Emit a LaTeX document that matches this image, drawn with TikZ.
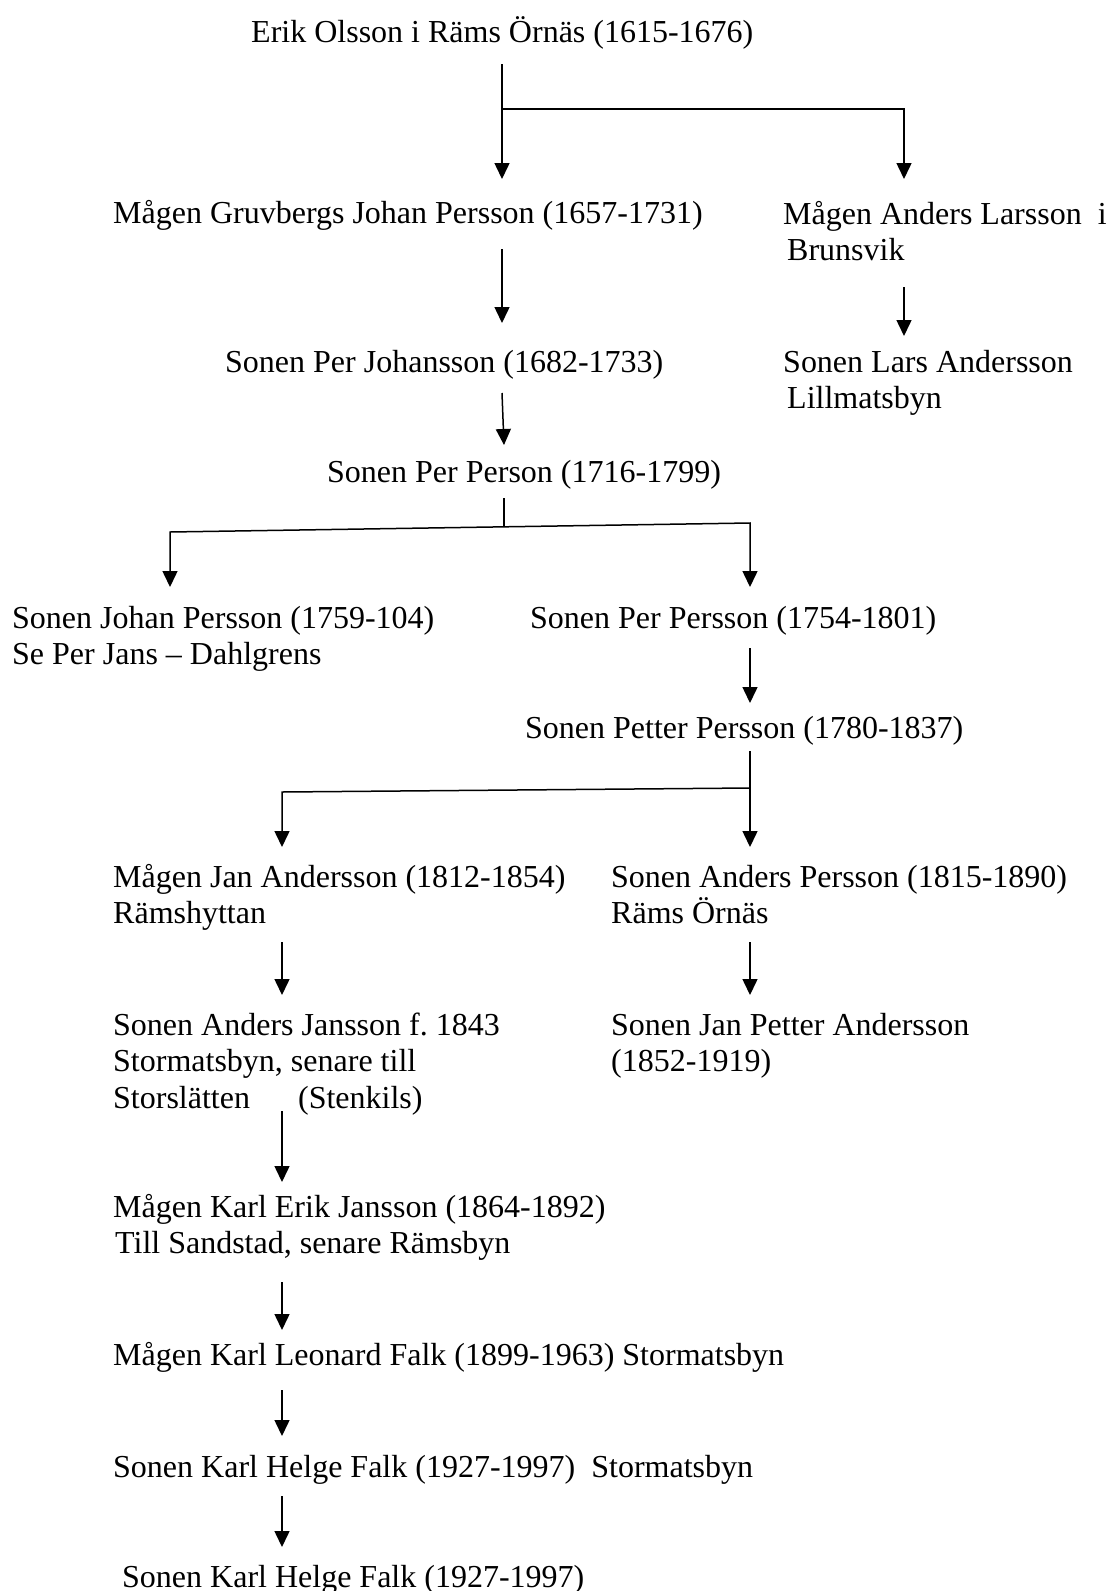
\documentclass[tikz,border=0pt]{standalone}
\usepackage{fontspec}
\setmainfont{Liberation Serif}
\usetikzlibrary{arrows.meta}
\frenchspacing
\begin{document}
\begin{tikzpicture}[x=1pt,y=-1pt,
  lbl/.style={anchor=base west, inner sep=0pt, align=left, font=\fontsize{32}{36.5}\selectfont},
  arr/.style={line width=1.5pt, -{Triangle[length=16pt,width=15pt]}},
  arr2/.style={line width=1.5pt, line join=miter, {Triangle[length=16pt,width=15pt]}-{Triangle[length=16pt,width=15pt]}},
  ln/.style={line width=1.5pt, line join=miter}]
\useasboundingbox[fill=white] (0,0) rectangle (1110,1591);

% nodes (multi-line nodes are placed by the baseline of their last line)
\node[lbl] (erik)   at (251,42)   {Erik Olsson i Räms Örnäs (1615-1676)};
\node[lbl] (gruv)   at (113,223)  {Mågen Gruvbergs Johan Persson (1657-1731)};
\node[lbl] (anders) at (783,260.5)  {Mågen Anders Larsson\ \ i\\\hspace*{4pt}Brunsvik};
\node[lbl] (perj)   at (225,372)  {Sonen Per Johansson (1682-1733)};
\node[lbl] (lars)   at (783,408.5)  {Sonen Lars Andersson\\\hspace*{4pt}Lillmatsbyn};
\node[lbl] (perp)   at (327,482)  {Sonen Per Person (1716-1799)};
\node[lbl] (johan)  at (12,664.5)   {Sonen Johan Persson (1759-104)\\Se Per Jans – Dahlgrens};
\node[lbl] (perp2)  at (530,628)  {Sonen Per Persson (1754-1801)};
\node[lbl] (petter) at (525,738)  {Sonen Petter Persson (1780-1837)};
\node[lbl] (jan)    at (113,923.5)  {Mågen Jan Andersson (1812-1854)\\Rämshyttan};
\node[lbl] (andp)   at (611,923.5)  {Sonen Anders Persson (1815-1890)\\Räms Örnäs};
\node[lbl] (andj)   at (113,1108) {Sonen Anders Jansson f. 1843\\Stormatsbyn, senare till\\Storslätten\hspace*{48pt}(Stenkils)};
\node[lbl] (jpa)    at (611,1071.5) {Sonen Jan Petter Andersson\\(1852-1919)};
\node[lbl] (karl)   at (113,1253.5) {Mågen Karl Erik Jansson (1864-1892)\\\hspace*{2pt}Till Sandstad, senare Rämsbyn};
\node[lbl] (leo)    at (113,1365) {Mågen Karl Leonard Falk (1899-1963) Stormatsbyn};
\node[lbl] (helge)  at (113,1477) {Sonen Karl Helge Falk (1927-1997)\ \ Stormatsbyn};
\node[lbl] (helge2) at (122,1587) {Sonen Karl Helge Falk (1927-1997)};

% connector points
\coordinate (e0) at (502,64);
\coordinate (e1) at (502,109);
\coordinate (e2) at (904,109);
\coordinate (eL) at (502,179);
\coordinate (eR) at (904,179);
\coordinate (g0) at (502,249);
\coordinate (g1) at (502,323);
\coordinate (a0) at (904,287);
\coordinate (a1) at (904,336);
\coordinate (pj0) at (502,393);
\coordinate (pj1) at (504,445);
\coordinate (pp0) at (504,498);
\coordinate (pp1) at (504,527);
\coordinate (ppL) at (170,532);
\coordinate (ppR) at (750,523);
\coordinate (ppLt) at (170,587);
\coordinate (ppRt) at (750,587);
\coordinate (q0) at (750,648);
\coordinate (q1) at (750,703);
\coordinate (pt0) at (750,751);
\coordinate (pt1) at (750,847);
\coordinate (ptJ) at (750,788);
\coordinate (ptL) at (282,792);
\coordinate (ptLt) at (282,847);
\coordinate (j0) at (282,942);
\coordinate (j1) at (282,995);
\coordinate (ap0) at (750,942);
\coordinate (ap1) at (750,995);
\coordinate (aj0) at (282,1111);
\coordinate (aj1) at (282,1182);
\coordinate (k0) at (282,1282);
\coordinate (k1) at (282,1330);
\coordinate (l0) at (282,1390);
\coordinate (l1) at (282,1436);
\coordinate (h0) at (282,1496);
\coordinate (h1) at (282,1547);

% connectors
\draw[arr] (e0) -- (eL);
\draw[arr] (e1) -- (e2) -- (eR);
\draw[arr] (g0) -- (g1);
\draw[arr] (a0) -- (a1);
\draw[arr] (pj0) -- (pj1);
\draw[ln] (pp0) -- (pp1);
\draw[arr2] (ppLt) -- (ppL) -- (ppR) -- (ppRt);
\draw[arr] (q0) -- (q1);
\draw[arr] (pt0) -- (pt1);
\draw[arr] (ptJ) -- (ptL) -- (ptLt);
\draw[arr] (j0) -- (j1);
\draw[arr] (ap0) -- (ap1);
\draw[arr] (aj0) -- (aj1);
\draw[arr] (k0) -- (k1);
\draw[arr] (l0) -- (l1);
\draw[arr] (h0) -- (h1);
\end{tikzpicture}
\end{document}
